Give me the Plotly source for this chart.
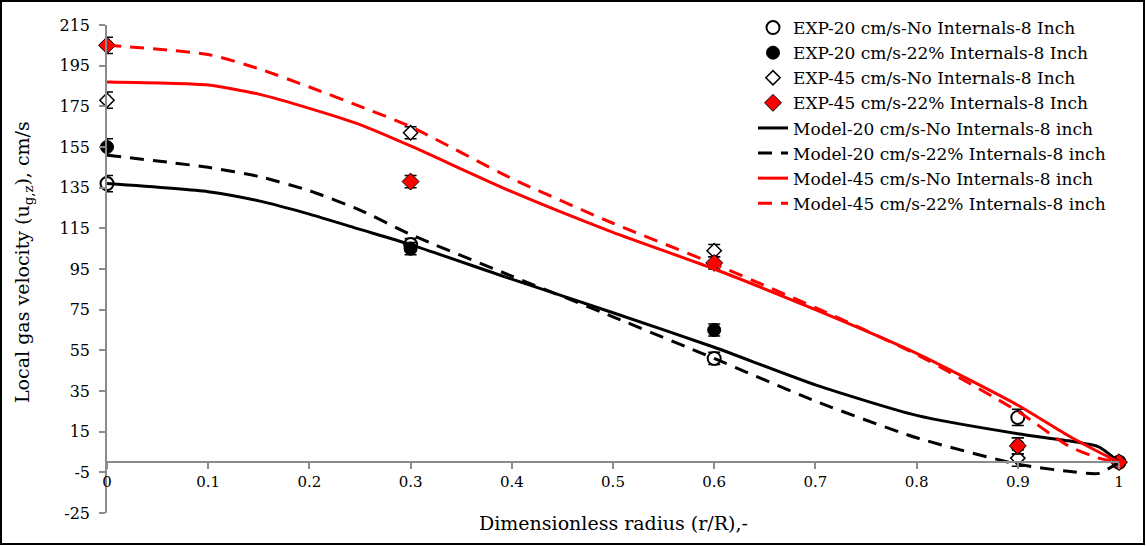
import plotly.graph_objects as go

# ---- data ----
exp_x = [0, 0.3, 0.6, 0.9, 1.0]
exp20_no = [137, 107, 51, 22, 0]
exp20_22 = [155, 105, 65, 8, 0]
exp45_no = [178, 162, 104, 2, 0]
exp45_22 = [205, 138, 98, 8, 0]
exp_err = [4, 3, 3, 4, 0]

model_x = [0, 0.1, 0.15, 0.2, 0.25, 0.3, 0.4, 0.5, 0.6, 0.7, 0.8, 0.9, 0.95, 0.98, 1.0]
model20_no = [137, 133, 128.5, 122, 114.5, 107, 90, 73.5, 56.5, 38, 23, 14, 10.5, 7.5, 0]
model20_22 = [151, 145, 140.5, 133.5, 124, 112, 91.5, 71.5, 51, 30, 12, -1, -4.5, -5.5, 0]
model45_no = [187, 185.5, 181, 174, 166, 155.5, 133, 113, 95, 75, 53.5, 28, 13, 5, 0]
model45_22 = [205, 200.5, 193.5, 184.5, 175, 165, 139.5, 117.5, 97.5, 76, 53, 25, 8, 2, 0]

y_ticks = list(range(-25, 216, 20))
y_tick_text = [str(v) for v in y_ticks]
x_ticks = [0, 0.1, 0.2, 0.3, 0.4, 0.5, 0.6, 0.7, 0.8, 0.9, 1]
x_tick_text = ["0", "0.1", "0.2", "0.3", "0.4", "0.5", "0.6", "0.7", "0.8", "0.9", "1"]

FONT = "DejaVu Serif"
W, H = 1146, 546
ML, MR, MT, MB = 107, 27, 25, 33
PW, PH = W - ML - MR, H - MT - MB

fig = go.Figure()

err = dict(type="data", array=exp_err, visible=True, color="black", thickness=1.5, width=6)

fig.add_trace(go.Scatter(x=exp_x, y=exp20_no, mode="markers", name="EXP-20 cm/s-No Internals-8 Inch",
                         marker=dict(symbol="circle", size=13, color="white", line=dict(color="black", width=2)),
                         error_y=err, cliponaxis=False))
fig.add_trace(go.Scatter(x=exp_x, y=exp20_22, mode="markers", name="EXP-20 cm/s-22% Internals-8 Inch",
                         marker=dict(symbol="circle", size=13, color="black", line=dict(color="black", width=1)),
                         error_y=err, cliponaxis=False))
fig.add_trace(go.Scatter(x=exp_x, y=exp45_no, mode="markers", name="EXP-45 cm/s-No Internals-8 Inch",
                         marker=dict(symbol="diamond", size=11, color="white", line=dict(color="black", width=1.5)),
                         error_y=err, cliponaxis=False))
fig.add_trace(go.Scatter(x=exp_x, y=exp45_22, mode="markers", name="EXP-45 cm/s-22% Internals-8 Inch",
                         marker=dict(symbol="diamond", size=13, color="red", line=dict(color="black", width=1)),
                         error_y=err, cliponaxis=False))

lines = [
    (model20_no, "Model-20 cm/s-No Internals-8 inch", "black", "solid"),
    (model20_22, "Model-20 cm/s-22% Internals-8 inch", "black", "14px,9px"),
    (model45_no, "Model-45 cm/s-No Internals-8 inch", "red", "solid"),
    (model45_22, "Model-45 cm/s-22% Internals-8 inch", "red", "14px,9px"),
]
for ys, name, col, dash in lines:
    fig.add_trace(go.Scatter(x=model_x, y=ys, mode="lines", name=name,
                             line=dict(color=col, width=3, dash=dash, shape="spline", smoothing=0.6),
                             cliponaxis=False))

fig.update_layout(
    width=W, height=H,
    margin=dict(l=ML, r=MR, t=MT, b=MB, autoexpand=False),
    paper_bgcolor="white", plot_bgcolor="white",
    font=dict(family=FONT, size=16, color="black"),
    showlegend=True,
    legend=dict(x=(753 - ML) / PW, y=1 + 15 / PH, xanchor="left", yanchor="top",
                bgcolor="rgba(0,0,0,0)", font=dict(family=FONT, size=17), tracegroupgap=0,
                itemwidth=30),
    xaxis=dict(range=[0, 1], tickvals=x_ticks, ticktext=x_tick_text, showgrid=False, zeroline=False,
               showline=True, linecolor="#8c8c8c", linewidth=1.5, ticks="outside", ticklen=6,
               tickcolor="#8c8c8c", tickwidth=1.5, anchor="free", position=25 / 240,
               tickfont=dict(family=FONT, size=15)),
    yaxis=dict(range=[-25, 215], tickvals=y_ticks, ticktext=y_tick_text, showgrid=False, zeroline=False,
               showline=True, linecolor="#8c8c8c", linewidth=1.5, ticks="outside", ticklen=6,
               tickcolor="#8c8c8c", tickwidth=1.5, ticklabelstandoff=6,
               tickfont=dict(family=FONT, size=16)),
    annotations=[
        dict(text="Dimensionless radius (r/R),-", xref="paper", yref="paper",
             x=0.5, y=-(523 - (MT + PH)) / PH, xanchor="center", yanchor="middle",
             showarrow=False, font=dict(family=FONT, size=19)),
        dict(text="Local gas velocity (u<sub>g,z</sub>), cm/s", xref="paper", yref="paper",
             x=-(ML - 23) / PW, y=(MT + PH - 262) / PH, xanchor="center", yanchor="middle",
             textangle=-90, showarrow=False, font=dict(family=FONT, size=19)),
    ],
    shapes=[dict(type="rect", xref="paper", yref="paper",
                 x0=(1 - ML) / PW, x1=(W - 2 - ML) / PW,
                 y0=-(H - 2 - MT - PH) / PH, y1=1 + (MT - 1) / PH,
                 line=dict(color="black", width=2), fillcolor="rgba(0,0,0,0)", layer="above")],
)

fig.write_html("out.html", config={"displayModeBar": False},
               post_script="document.body.style.margin='0';")
